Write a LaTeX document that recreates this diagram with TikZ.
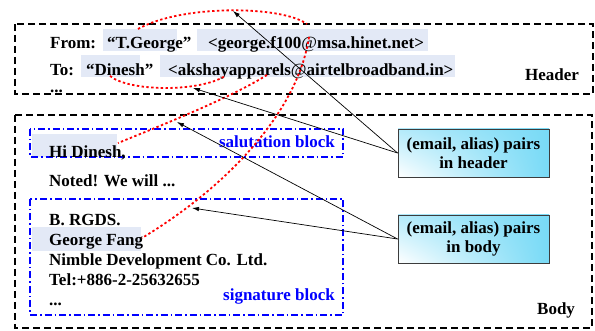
\documentclass[tikz,border=0pt]{standalone}
\usepackage{fontspec}
\setmainfont{Liberation Serif}
\usetikzlibrary{arrows.meta,shadings}
\definecolor{hl}{RGB}{227,233,246}
\definecolor{cyanA}{RGB}{120,218,246}
\definecolor{cyanB}{RGB}{180,234,250}
\definecolor{boxline}{RGB}{60,60,60}
\begin{document}
\begin{tikzpicture}[x=1pt,y=-1pt,
  txt/.style={anchor=base west, inner sep=0pt, font=\fontsize{17}{20}\selectfont\bfseries},
  bluetxt/.style={anchor=base east, inner sep=0pt, text=blue, font=\fontsize{17}{20}\selectfont\bfseries},
  outerbox/.style={draw=black, line width=1.6pt, dash pattern=on 7pt off 4pt},
  blockbox/.style={draw=blue, line width=1.5pt, dash pattern=on 7pt off 3pt on 1.5pt off 3pt},
  redlink/.style={draw=red, line width=1.8pt, dash pattern=on 2.4pt off 2.4pt},
  ptr/.style={draw=black, line width=0.7pt, -{Latex[length=7pt,width=4.5pt]}},
  pairbox/.style={draw=boxline, line width=0.9pt, minimum width=151pt, minimum height=48pt,
    align=center, inner sep=0pt, font=\fontsize{17}{19}\selectfont\bfseries,
    upper left=cyanB, upper right=cyanA, lower left=white, lower right=cyanA}
]
\useasboundingbox (0,0) rectangle (595,331);
% highlights
\fill[hl] (103,29) rectangle (177,51);
\fill[hl] (197,29) rectangle (428,51);
\fill[hl] (81,55) rectangle (140,77);
\fill[hl] (160,55) rectangle (455,77);
\fill[hl] (32,134) rectangle (117,157);
\fill[hl] (32,227) rectangle (141,251);
% frames
\draw[outerbox] (15,24) rectangle (593,94);
\draw[outerbox] (15,115) rectangle (592,328);
\draw[blockbox] (30,129) rectangle (343,157);
\draw[blockbox] (30,199) rectangle (343,315);
% header texts
\node[txt] (from) at (50,49) {From:};
\node[txt] (tg) at (107,49) {“T.George”};
\node[txt] (gmail) at (208,49) {<george.f100\textmd{@}msa.hinet.net>};
\node[txt] (to) at (50,76) {To:};
\node[txt] (dn) at (86,76) {“Dinesh”};
\node[txt] (amail) at (168,76) {<akshayapparels\textmd{@}airtelbroadband.in>};
\node[txt] (hdots) at (50,93) {...};
\node[txt] (hdr) at (525,81) {Header};
% body texts
\node[txt] (hi) at (49,158) {Hi Dinesh,};
\node[txt] (noted) at (49,187) {Noted! We will ...};
\node[bluetxt] (sal) at (335,148) {salutation block};
\node[txt] (rgds) at (49,226) {B. RGDS.};
\node[txt] (gf) at (49,246) {George Fang};
\node[txt] (nim) at (49,266) {Nimble Development Co. Ltd.};
\node[txt] (tel) at (49,286) {Tel:+886-2-25632655};
\node[txt] (bdots) at (49,306) {...};
\node[bluetxt] (sig) at (335,301) {signature block};
\node[txt] (body) at (537,315) {Body};
% pair boxes
\node[pairbox] (hp) at (473.5,153) {(email, alias) pairs\\in header};
\node[pairbox] (bp) at (473.5,239) {(email, alias) pairs\\in body};
% red links
\draw[redlink] (138,29) .. controls (180,5) and (280,5) .. (307,24);
\draw[redlink] (309,37) .. controls (298,110) and (230,185) .. (142,238);
\draw[redlink] (110,76) .. controls (130,92) and (200,92) .. (225,76);
\draw[redlink] (267,75) .. controls (235,95) and (180,118) .. (118,143);
% arrow targets
\coordinate (a1) at (233,11);
\coordinate (a2) at (193,88);
\coordinate (a3) at (177,122);
\coordinate (a4) at (192,208);
\draw[ptr] (hp.west) -- (a1);
\draw[ptr] (hp.west) -- (a2);
\draw[ptr] (bp.west) -- (a3);
\draw[ptr] (bp.west) -- (a4);
\end{tikzpicture}
\end{document}
